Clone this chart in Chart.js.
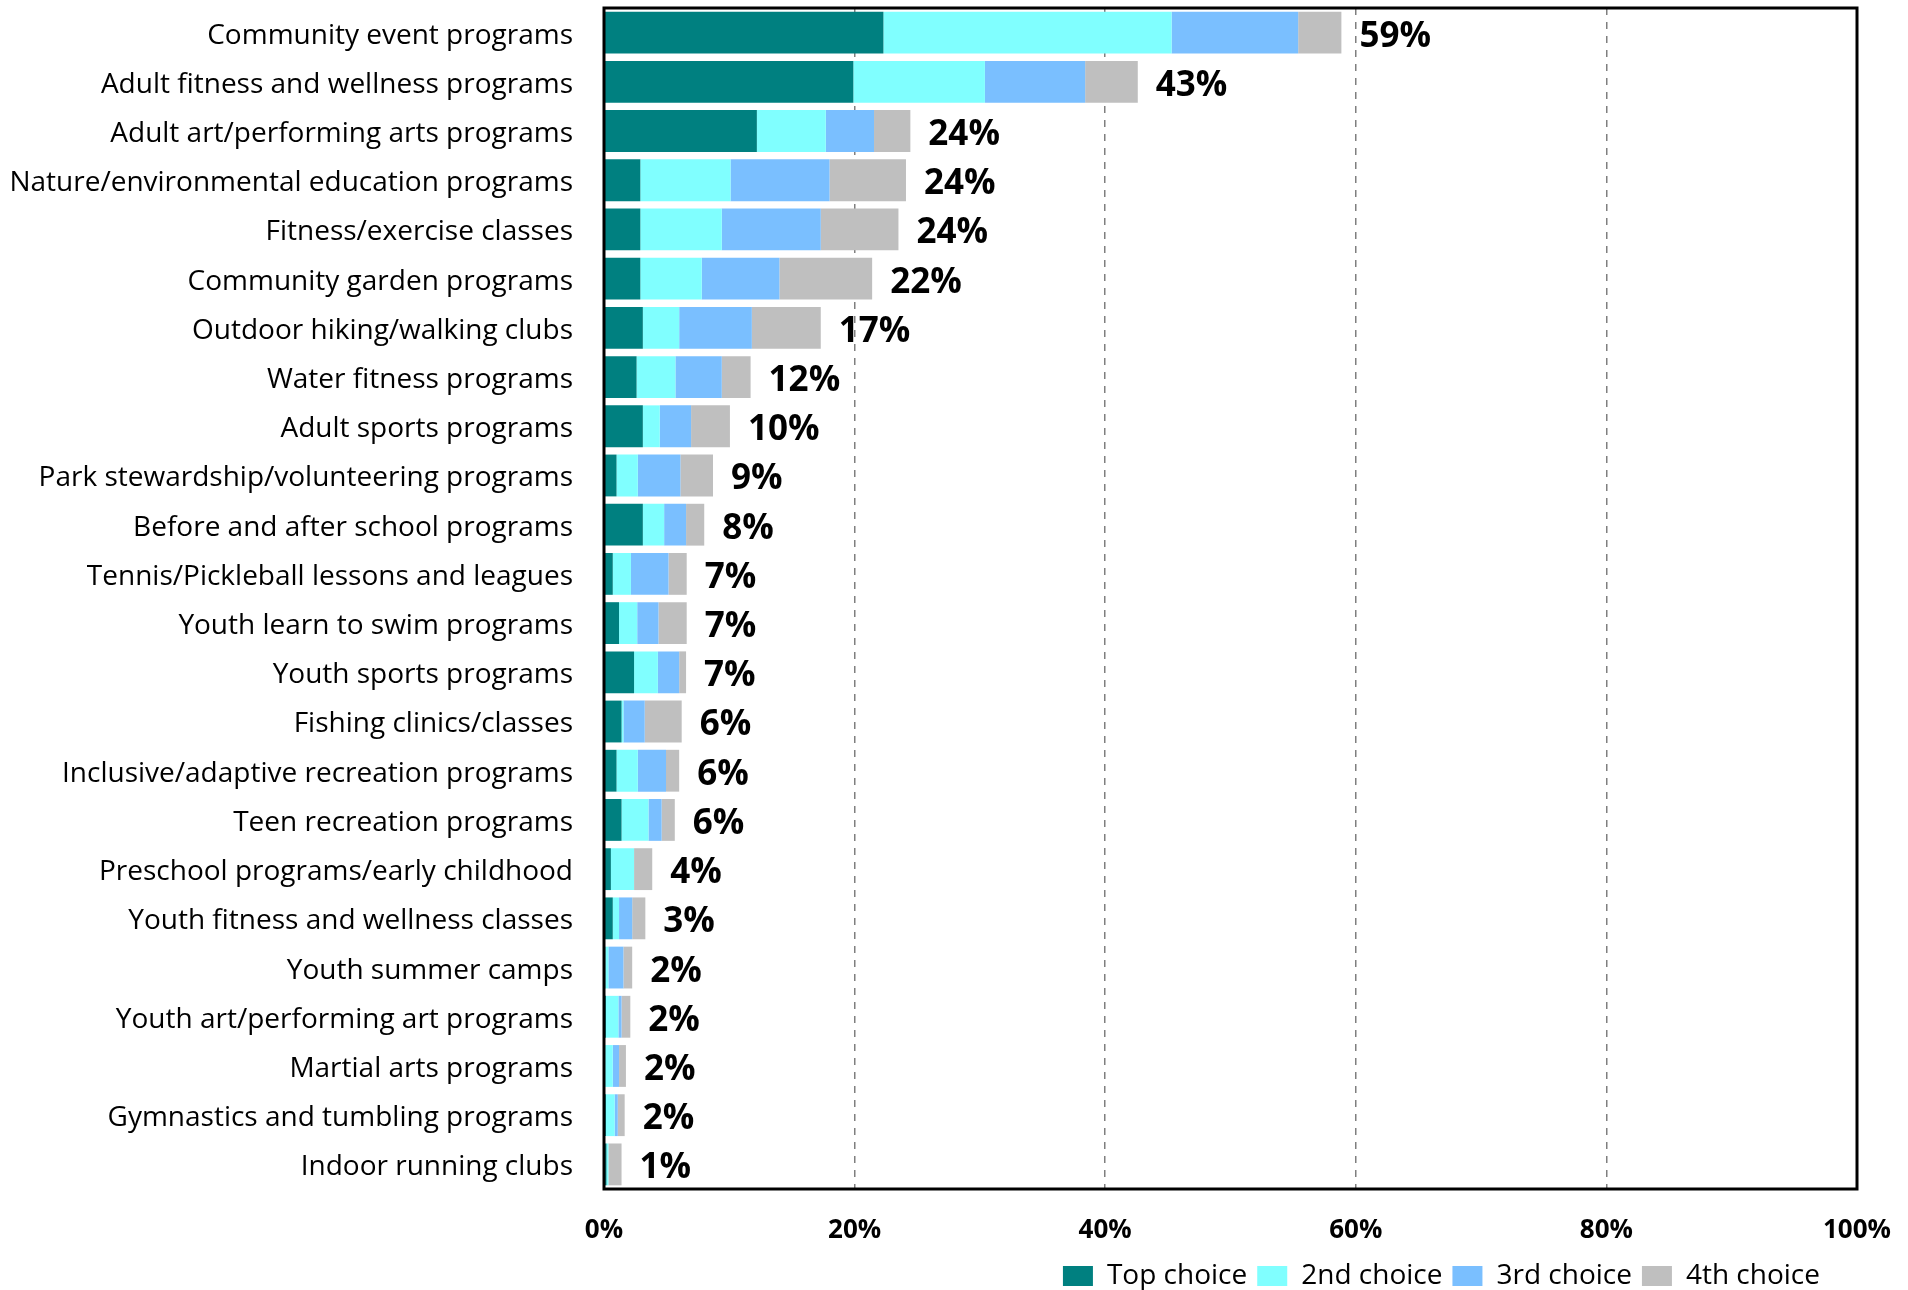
<!DOCTYPE html>
<html>
<head>
<meta charset="utf-8">
<script src="https://cdn.jsdelivr.net/npm/chart.js@4/dist/chart.umd.min.js"></script>
<style>
  html, body { margin: 0; padding: 0; background: #fff; }
  #wrap { width: 1908px; height: 1290px; position: relative; }
</style>
</head>
<body>
<div id="wrap"><canvas id="chart"></canvas></div>
<script>
const categories = [
  "Community event programs", "Adult fitness and wellness programs", "Adult art/performing arts programs",
  "Nature/environmental education programs", "Fitness/exercise classes", "Community garden programs",
  "Outdoor hiking/walking clubs", "Water fitness programs", "Adult sports programs",
  "Park stewardship/volunteering programs", "Before and after school programs", "Tennis/Pickleball lessons and leagues",
  "Youth learn to swim programs", "Youth sports programs", "Fishing clinics/classes",
  "Inclusive/adaptive recreation programs", "Teen recreation programs", "Preschool programs/early childhood",
  "Youth fitness and wellness classes", "Youth summer camps", "Youth art/performing art programs",
  "Martial arts programs", "Gymnastics and tumbling programs", "Indoor running clubs",
];
const topChoice = [22.3, 19.9, 12.2, 2.9, 2.9, 2.9, 3.1, 2.6, 3.1, 1.0, 3.1, 0.7, 1.2, 2.4, 1.4, 1.0, 1.4, 0.55, 0.7, 0.1, 0.15, 0.05, 0.15, 0.2];
const secondChoice = [23.0, 10.5, 5.5, 7.2, 6.5, 4.9, 2.9, 3.1, 1.35, 1.7, 1.7, 1.45, 1.45, 1.9, 0.15, 1.7, 2.15, 1.85, 0.5, 0.25, 1.0, 0.65, 0.7, 0.15];
const thirdChoice = [10.1, 8.0, 3.85, 7.9, 7.9, 6.2, 5.8, 3.7, 2.5, 3.4, 1.75, 3.0, 1.7, 1.7, 1.7, 2.25, 1.05, 0, 1.05, 1.2, 0.25, 0.5, 0.25, 0];
const fourthChoice = [3.45, 4.2, 2.9, 6.1, 6.2, 7.4, 5.5, 2.3, 3.1, 2.6, 1.45, 1.45, 2.25, 0.55, 2.95, 1.05, 1.05, 1.45, 1.05, 0.7, 0.7, 0.55, 0.55, 1.05];
const totalLabels = ["59%", "43%", "24%", "24%", "24%", "22%", "17%", "12%", "10%", "9%", "8%", "7%", "7%", "7%", "6%", "6%", "6%", "4%", "3%", "2%", "2%", "2%", "2%", "1%"];
const xTicks = [0, 20, 40, 60, 80, 100];

const FONT = "'Open Sans', 'Noto Sans', sans-serif";
Chart.defaults.font.family = FONT;
Chart.defaults.color = "#000";
Chart.defaults.animation = false;

// frame round the plot area
const frame = {
  id: "frame",
  afterDraw(chart) {
    const { ctx, chartArea: a } = chart;
    ctx.save();
    ctx.strokeStyle = "#000";
    ctx.lineWidth = 3;
    ctx.strokeRect(a.left, a.top, a.right - a.left, a.bottom - a.top);
    ctx.restore();
  },
};

// total % after each bar
const totals = {
  id: "totals",
  afterDatasetsDraw(chart) {
    const { ctx } = chart;
    const meta = chart.getDatasetMeta(chart.data.datasets.length - 1);
    ctx.save();
    ctx.font = `bold 35px ${FONT}`;
    ctx.fillStyle = "#000";
    ctx.textBaseline = "middle";
    meta.data.forEach((bar, i) => ctx.fillText(totalLabels[i], bar.x + 18, bar.y + 4));
    ctx.restore();
  },
};

// move the legend a little left and down
const legendShift = {
  id: "legendShift",
  afterLayout(chart) {
    const lg = chart.legend;
    lg.left -= 27; lg.right -= 27;
    lg.top += 10; lg.bottom += 10;
  },
};

const ds = (label, data, color) => ({ label, data, backgroundColor: color, borderWidth: 0, barPercentage: 0.85, categoryPercentage: 1 });

new Chart(document.getElementById("chart"), {
  type: "bar",
  data: {
    labels: categories,
    datasets: [
      ds("Top choice", topChoice, "#008080"),
      ds("2nd choice", secondChoice, "#80FFFF"),
      ds("3rd choice", thirdChoice, "#7ABFFF"),
      ds("4th choice", fourthChoice, "#BFBFBF"),
    ],
  },
  options: {
    indexAxis: "y",
    responsive: true,
    maintainAspectRatio: false,
    layout: { padding: { top: 8, right: 51, left: 0, bottom: 0 } },
    plugins: {
      tooltip: { enabled: false },
      legend: {
        position: "bottom",
        align: "end",
        labels: { boxWidth: 30, boxHeight: 20, padding: 10, font: { size: 28 }, color: "#000" },
      },
    },
    scales: {
      x: {
        stacked: true, min: 0, max: 100,
        afterBuildTicks: (axis) => { axis.ticks = xTicks.map((v) => ({ value: v })); },
        afterFit: (axis) => { axis.height = 53; axis.paddingLeft = 0; axis.paddingRight = 0; },
        ticks: { callback: (v) => v + "%", font: { size: 26, weight: "bold" }, padding: 26, maxRotation: 0 },
        grid: {
          drawTicks: false, lineWidth: 1.5,
          color: (c) => (c.tick && c.tick.value > 0 && c.tick.value < 100 ? "#7f7f7f" : "rgba(0,0,0,0)"),
        },
        border: { display: false, dash: [7, 7] },
      },
      y: {
        stacked: true,
        afterFit: (axis) => { axis.width = 604; axis.paddingTop = 0; axis.paddingBottom = 0; },
        ticks: { font: { size: 28 }, padding: 31, autoSkip: false, labelOffset: 3 },
        grid: { display: false, drawTicks: false },
        border: { display: false },
      },
    },
  },
  plugins: [frame, totals, legendShift],
});
</script>
</body>
</html>
